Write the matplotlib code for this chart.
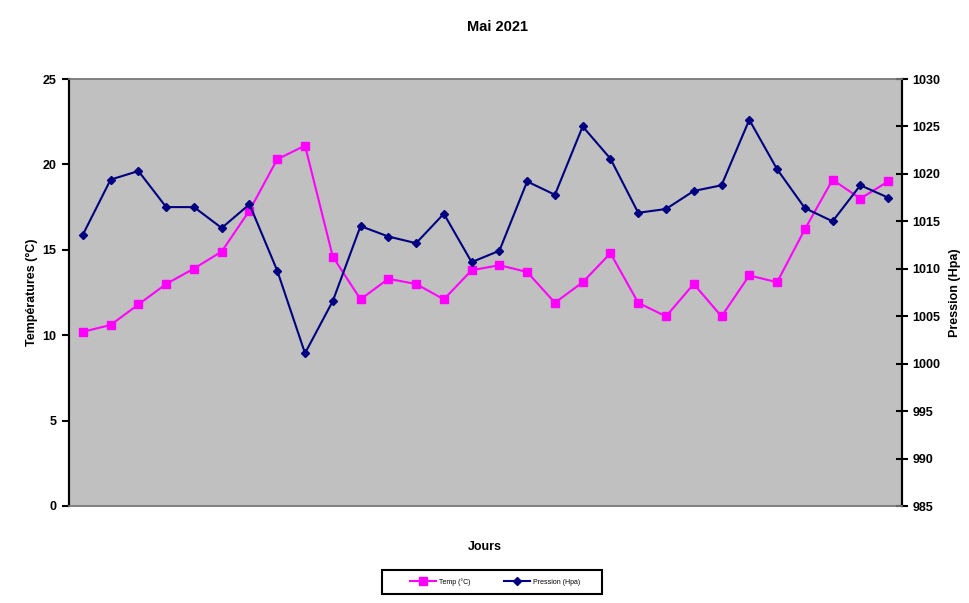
import matplotlib
matplotlib.use("Agg")
import matplotlib.pyplot as plt
from matplotlib.patches import Rectangle

plt.rcParams["font.family"] = ["Liberation Sans", "DejaVu Sans"]
plt.rcParams["font.weight"] = "bold"

# May 2021 daily readings (30 days shown)
DAYS = list(range(1, 31))
TEMP = [10.2, 10.6, 11.8, 13.0, 13.9, 14.9, 17.3, 20.3, 21.1, 14.6,
        12.1, 13.3, 13.0, 12.1, 13.8, 14.1, 13.7, 11.9, 13.1, 14.8,
        11.9, 11.1, 13.0, 11.1, 13.5, 13.1, 16.2, 19.1, 18.0, 19.0]
PRESSURE = [1013.6, 1019.4, 1020.3, 1016.5, 1016.5, 1014.3, 1016.8, 1009.8, 1001.1, 1006.6,
            1014.5, 1013.4, 1012.7, 1015.8, 1010.7, 1011.9, 1019.2, 1017.8, 1025.0, 1021.6,
            1015.9, 1016.3, 1018.2, 1018.8, 1025.7, 1020.5, 1016.4, 1015.0, 1018.8, 1017.5]

W, H = 970, 603
fig = plt.figure(figsize=(W / 100, H / 100), dpi=100)
ax = fig.add_axes([69 / W, 97 / H, 833 / W, 427 / H])
ax.set_facecolor("#c0c0c0")
ax2 = ax.twinx()

l1, = ax.plot(DAYS, TEMP, color="#ff00ff", linewidth=1.5, marker="s",
              markersize=6, label="Temp (°C)")
l2, = ax2.plot(DAYS, PRESSURE, color="#000080", linewidth=1.5, marker="D",
               markersize=4.5, label="Pression (Hpa)")

ax.set_xlim(0.5, 30.5)
ax.set_xticks([])
ax.set_ylim(0, 25)
ax.set_yticks(range(0, 26, 5))
ax2.set_ylim(985, 1030)
ax2.set_yticks(range(985, 1031, 5))

for a in (ax, ax2):
    a.spines["top"].set_color("#808080")
    a.spines["bottom"].set_color("#808080")
    a.spines["left"].set_color("black")
    a.spines["right"].set_color("black")
    a.spines["left"].set_linewidth(1.5)
    a.spines["right"].set_linewidth(1.5)
    a.spines["top"].set_linewidth(1.2)
    a.spines["bottom"].set_linewidth(1.2)
ax.tick_params(axis="y", direction="out", length=5, width=1.5, labelsize=9, pad=4)
ax2.tick_params(axis="y", direction="inout", length=9, width=1.5, labelsize=9, pad=3)
for lab in ax.get_yticklabels() + ax2.get_yticklabels():
    lab.set_fontweight("bold")

ax.set_ylabel("Températures (°C)", fontsize=9, fontweight="bold", labelpad=3)
ax2.set_ylabel("Pression (Hpa)", fontsize=9, fontweight="bold", labelpad=6)
fig.text(498 / W, 1 - 27 / H, "Mai 2021", ha="center", va="center",
         fontsize=10.5, fontweight="bold")
fig.text(485 / W, 1 - 547 / H, "Jours", ha="center", va="center",
         fontsize=9, fontweight="bold")

# legend box drawn separately so its wide side margins match the original
fig.patches.append(Rectangle((382 / W, 1 - 594 / H), 220 / W, 24 / H,
                             transform=fig.transFigure, facecolor="white",
                             edgecolor="black", linewidth=1.5))
leg = fig.legend(handles=[l1, l2], loc="center",
                 bbox_to_anchor=(495 / W, 1 - 582 / H), ncol=2,
                 fontsize=5, frameon=False, handlelength=3.8,
                 handletextpad=0.4, columnspacing=4.8)
for t in leg.get_texts():
    t.set_fontweight("normal")

fig.savefig("out.png", dpi=100)
